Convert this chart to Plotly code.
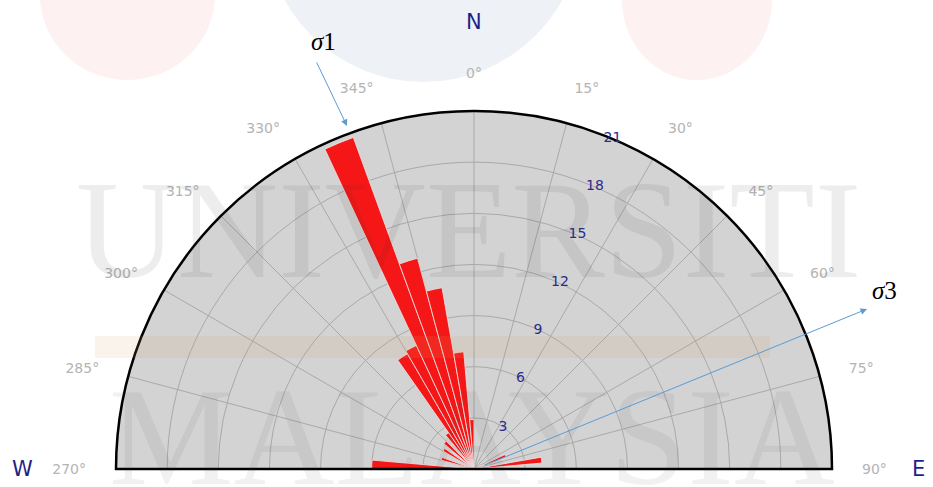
import plotly.graph_objects as go

# Strike classes (centre of each 5-degree bin) and number of readings
bin_centres = [272.5, 287.5, 302.5, 312.5, 322.5, 327.5, 332.5, 337.5,
               342.5, 347.5, 352.5, 357.5, 67.5, 82.5]
counts = [6.0, 2.0, 2.1, 2.3, 2.6, 7.8, 8.0, 20.7,
          12.8, 10.8, 6.9, 2.9, 2.0, 4.0]
bin_width = 5

radial_ticks = [3, 6, 9, 12, 15, 18, 21]
# compass bearings of the angular ticks, west (-90) through north to east (90)
angle_ticks = [-90, -75, -60, -45, -30, -15, 0, 15, 30, 45, 60, 75, 90]
angle_labels = [f"{a % 360}°" for a in angle_ticks]

W, H = 933, 487
CX, CY, R = 474, 469, 358  # pixel centre and radius of the rose
RADIAL_AXIS_ANGLE = 70       # radial scale drawn along bearing 20°


def px(x):
    return x / W


def py(y):
    return (H - y) / H


fig = go.Figure()
fig.add_trace(go.Barpolar(
    r=counts,
    theta=bin_centres,
    width=[bin_width] * len(counts),
    marker=dict(color="#f51717", line=dict(color="rgba(235,225,225,0.85)", width=1)),
    hoverinfo="r+theta",
))

grid = "#a9a9a9"
fig.update_layout(
    width=W, height=H,
    margin=dict(l=0, r=0, t=0, b=0),
    paper_bgcolor="white",
    showlegend=False,
    polar=dict(
        domain=dict(x=[px(CX - R), px(CX + R)], y=[py(CY), py(CY - R)]),
        sector=[0, 180],
        bgcolor="#d3d3d3",
        bargap=0,
        angularaxis=dict(
            rotation=90, direction="clockwise",
            tickmode="array", tickvals=angle_ticks, ticktext=angle_labels,
            tickfont=dict(family="DejaVu Sans", size=14, color="#b4b4b4"),
            ticks="outside", ticklen=26, tickcolor="rgba(0,0,0,0)",
            showline=True, linecolor="black", linewidth=2.5,
            showgrid=True, gridcolor=grid, gridwidth=1,
        ),
        radialaxis=dict(
            range=[0, 21], angle=RADIAL_AXIS_ANGLE, tickangle=RADIAL_AXIS_ANGLE,
            tickmode="array", tickvals=radial_ticks,
            tickfont=dict(family="DejaVu Sans", size=14, color="#2b2b8c"),
            showline=False, ticks="",
            showgrid=True, gridcolor=grid, gridwidth=1,
        ),
    ),
)

# faint logo watermark behind the chart
shapes = [
    dict(type="circle", xref="paper", yref="paper", layer="below",
         x0=px(40), x1=px(215), y0=py(80), y1=py(-90),
         fillcolor="#fdf1f1", line=dict(width=0)),
    dict(type="circle", xref="paper", yref="paper", layer="below",
         x0=px(622), x1=px(772), y0=py(80), y1=py(-80),
         fillcolor="#fdf1f1", line=dict(width=0)),
    dict(type="circle", xref="paper", yref="paper", layer="below",
         x0=px(265), x1=px(582), y0=py(82), y1=py(-235),
         fillcolor="#eef2f7", line=dict(width=0)),
    dict(type="rect", xref="paper", yref="paper", layer="above",
         x0=px(95), x1=px(770), y0=py(358), y1=py(336),
         fillcolor="rgba(215,160,100,0.12)", line=dict(width=0)),
]
fig.update_layout(shapes=shapes)


def arrow(tail, head):
    # arrow drawn from tail to head, both in page pixels
    return dict(text="", x=px(head[0]), y=py(head[1]), xref="paper", yref="paper",
                ax=tail[0] - head[0], ay=tail[1] - head[1], axref="pixel", ayref="pixel",
                showarrow=True, arrowhead=2, arrowsize=1.3, arrowwidth=1,
                arrowcolor="#5b9bd5")


def label(text, x, y, size, family, color):
    return dict(text=text, x=px(x), y=py(y), xref="paper", yref="paper",
                xanchor="center", yanchor="middle", showarrow=False,
                font=dict(family=family, size=size, color=color))


annotations = [
    dict(text="UNIVERSITI", x=px(468), y=py(309), xref="paper", yref="paper",
         xanchor="center", yanchor="bottom", showarrow=False,
         font=dict(family="Liberation Serif", size=140, color="rgba(60,60,60,0.09)")),
    dict(text="MALAYSIA", x=px(472), y=py(516), xref="paper", yref="paper",
         xanchor="center", yanchor="bottom", showarrow=False,
         font=dict(family="Liberation Serif", size=140, color="rgba(60,60,60,0.07)")),
    # compass letters
    label("N", 474, 22, 21, "DejaVu Sans", "#1f1f8a"),
    label("W", 22, 469, 21, "DejaVu Sans", "#1f1f8a"),
    label("E", 918, 469, 21, "DejaVu Sans", "#1f1f8a"),
    # principal stress directions
    label("<i>σ</i>1", 323, 42, 25, "Liberation Serif", "black"),
    label("<i>σ</i>3", 884, 290, 25, "Liberation Serif", "black"),
    arrow((316, 61), (347, 126)),
    arrow((483, 466), (867, 309)),
]
fig.update_layout(annotations=annotations)

fig.write_html("out.html")
